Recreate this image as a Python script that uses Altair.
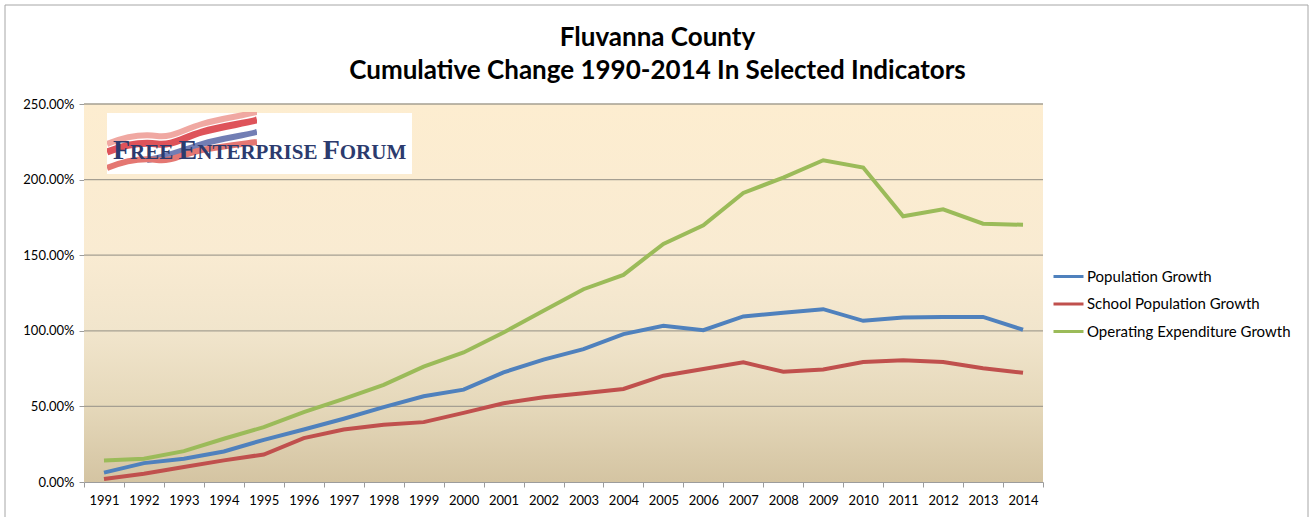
import urllib.parse
import altair as alt
import pandas as pd

# ---------------- data ----------------
years = list(range(1991, 2015))
population_growth = [6.2, 12.5, 15.4, 20.2, 27.9, 34.7, 41.8, 49.5, 56.7, 61.1, 72.5, 80.9,
                     87.9, 97.8, 103.3, 100.4, 109.5, 112.0, 114.3, 106.6, 108.8, 109.2, 109.2, 100.7]
school_growth = [2.0, 5.5, 9.9, 14.3, 18.2, 29.0, 34.7, 37.8, 39.6, 45.7, 52.1, 56.0,
                 58.7, 61.5, 70.3, 74.7, 79.1, 72.9, 74.4, 79.3, 80.6, 79.3, 75.3, 72.2]
expenditure_growth = [14.3, 15.4, 20.4, 28.6, 36.3, 46.2, 55.0, 64.2, 76.3, 85.7, 98.9, 113.2,
                      127.5, 137.0, 157.5, 169.7, 191.2, 201.3, 212.8, 208.0, 175.7, 180.3, 170.8, 170.1]
series_names = ["Population Growth", "School Population Growth", "Operating Expenditure Growth"]
series_colors = ["#4F81BD", "#C0504D", "#9BBB59"]
y_ticks = [0.0, 0.5, 1.0, 1.5, 2.0, 2.5]
title_lines = ["Fluvanna County", "Cumulative Change 1990-2014 In Selected Indicators"]

rows = []
for name, vals in zip(series_names, [population_growth, school_growth, expenditure_growth]):
    for yr, v in zip(years, vals):
        rows.append({"Year": yr, "Series": name, "Value": v / 100.0})
df = pd.DataFrame(rows)

W, H = 959, 378
FONT = "Lato"

x_enc = alt.X("Year:Q",
              scale=alt.Scale(domain=[years[0] - 0.5, years[-1] + 0.5], nice=False, zero=False),
              axis=alt.Axis(values=[y - 0.5 for y in years] + [years[-1] + 0.5],
                            labelExpr=f"datum.value < {years[-1]} ? format(datum.value + 0.5, 'd') : ''",
                            labelOffset=W / len(years) / 2, grid=False, tickSize=5,
                            tickColor="#9C9C9C", domainColor="#9C9C9C", labelPadding=7,
                            labelFont=FONT, labelFontSize=13, labelColor="#000000",
                            labelOverlap=False, labelFlush=False, labelBound=False, title=None))
y_enc = alt.Y("Value:Q",
              scale=alt.Scale(domain=[0, 2.5], nice=False),
              axis=alt.Axis(values=y_ticks, format=".2%", grid=False, tickSize=5,
                            tickColor="#9C9C9C", domainColor="#A6A6A6", labelPadding=5,
                            labelFont=FONT, labelFontSize=13, labelColor="#000000", title=None))

one = pd.DataFrame({"k": [0]})

border = alt.Chart(one).mark_rect(fillOpacity=0, stroke="#A6A6A6", strokeWidth=1).encode(
    x=alt.value(-79), x2=alt.value(1224), y=alt.value(-99), y2=alt.value(440))

background = alt.Chart(one).mark_rect(
    color=alt.LinearGradient(gradient="linear", x1=0, x2=0, y1=0, y2=1,
                             stops=[alt.GradientStop(color="#FDEDD0", offset=0),
                                    alt.GradientStop(color="#F9EBD2", offset=0.4),
                                    alt.GradientStop(color="#F1E5CC", offset=0.6),
                                    alt.GradientStop(color="#E5D8BA", offset=0.8),
                                    alt.GradientStop(color="#D4C4A2", offset=1)])
).encode(x=alt.value(0), x2=alt.value(W), y=alt.value(0), y2=alt.value(H))

grid = alt.Chart(pd.DataFrame({"g": y_ticks[1:]})).mark_rule(color="#A59F92", strokeWidth=1.3).encode(
    y=alt.Y("g:Q", scale=alt.Scale(domain=[0, 2.5], nice=False)), x=alt.value(0), x2=alt.value(W))

# ---- logo (decoration) ----
logo_box = alt.Chart(one).mark_rect(color="#FFFFFF").encode(
    x=alt.value(23), x2=alt.value(328), y=alt.value(9), y2=alt.value(70))

svg = ("<svg xmlns='http://www.w3.org/2000/svg' width='150' height='62'>"
       "<path d='M0,32 C20,24 35,22 50,24 C65,26 75,18 95,12 C115,6 135,4 150,0' stroke='#EE9A92' stroke-width='6' fill='none'/>"
       "<path d='M0,40 C20,32 35,30 50,32 C65,34 75,26 95,20 C115,14 135,12 150,8' stroke='#D9363E' stroke-width='7' fill='none'/>"
       "<path d='M40,48 C55,46 70,40 95,32 C115,26 135,24 150,20' stroke='#5A68A8' stroke-width='6' fill='none'/>"
       "<path d='M0,56 C20,48 35,46 50,48 C65,50 75,42 95,38 C115,34 135,32 150,30' stroke='#E0605A' stroke-width='6' fill='none'/>"
       "</svg>")
uri = "data:image/svg+xml;charset=utf-8," + urllib.parse.quote(svg)
ribbons = alt.Chart(one).mark_image(width=150, height=62, align="left", baseline="top", opacity=0.85).encode(
    x=alt.value(23), y=alt.value(8), url=alt.value(uri))

logo_layers = []
pieces = [("F", 28), ("REE ", 21), ("E", 28), ("NTERPRISE ", 21), ("F", 28), ("ORUM", 21)]
widths = {"F": .611, "R": .722, "E": .667, "N": .722, "T": .667, "P": .611, "I": .389,
          "S": .556, "O": .778, "U": .722, "M": .944, " ": .25}
xpos = 29.0
for txt, size in pieces:
    logo_layers.append(alt.Chart(one).mark_text(
        text=txt, font="Liberation Serif", fontWeight="bold", fontSize=size, color="#2C3B6E",
        align="left", baseline="alphabetic").encode(x=alt.value(xpos), y=alt.value(55)))
    xpos += sum(widths[c] for c in txt) * size

lines = alt.Chart(df).mark_line(strokeWidth=4).encode(
    x=x_enc, y=y_enc,
    color=alt.Color("Series:N",
                    scale=alt.Scale(domain=series_names, range=series_colors),
                    sort=series_names,
                    legend=alt.Legend(orient="none", legendX=968, legendY=159, title=None,
                                      symbolType="stroke", symbolSize=900, symbolStrokeWidth=3,
                                      clipHeight=27, rowPadding=0.5, labelOffset=2, labelLimit=400,
                                      labelFont=FONT, labelFontSize=15, labelColor="#000000")))

chart = alt.layer(border, background, grid, logo_box, ribbons, *logo_layers, lines).properties(
    width=W, height=H,
    padding={"left": 84, "top": 104, "right": 1313 - 84 - W, "bottom": 517 - 104 - H},
    autosize=alt.AutoSizeParams(type="none"),
    title=alt.TitleParams(text=title_lines, font=FONT, fontSize=26, fontWeight="bold",
                          color="#000000", anchor="middle", dx=94, offset=-79, lineHeight=33),
).configure_view(stroke=None)

chart.save("out.html", embed_options={"renderer": "svg", "actions": False})
